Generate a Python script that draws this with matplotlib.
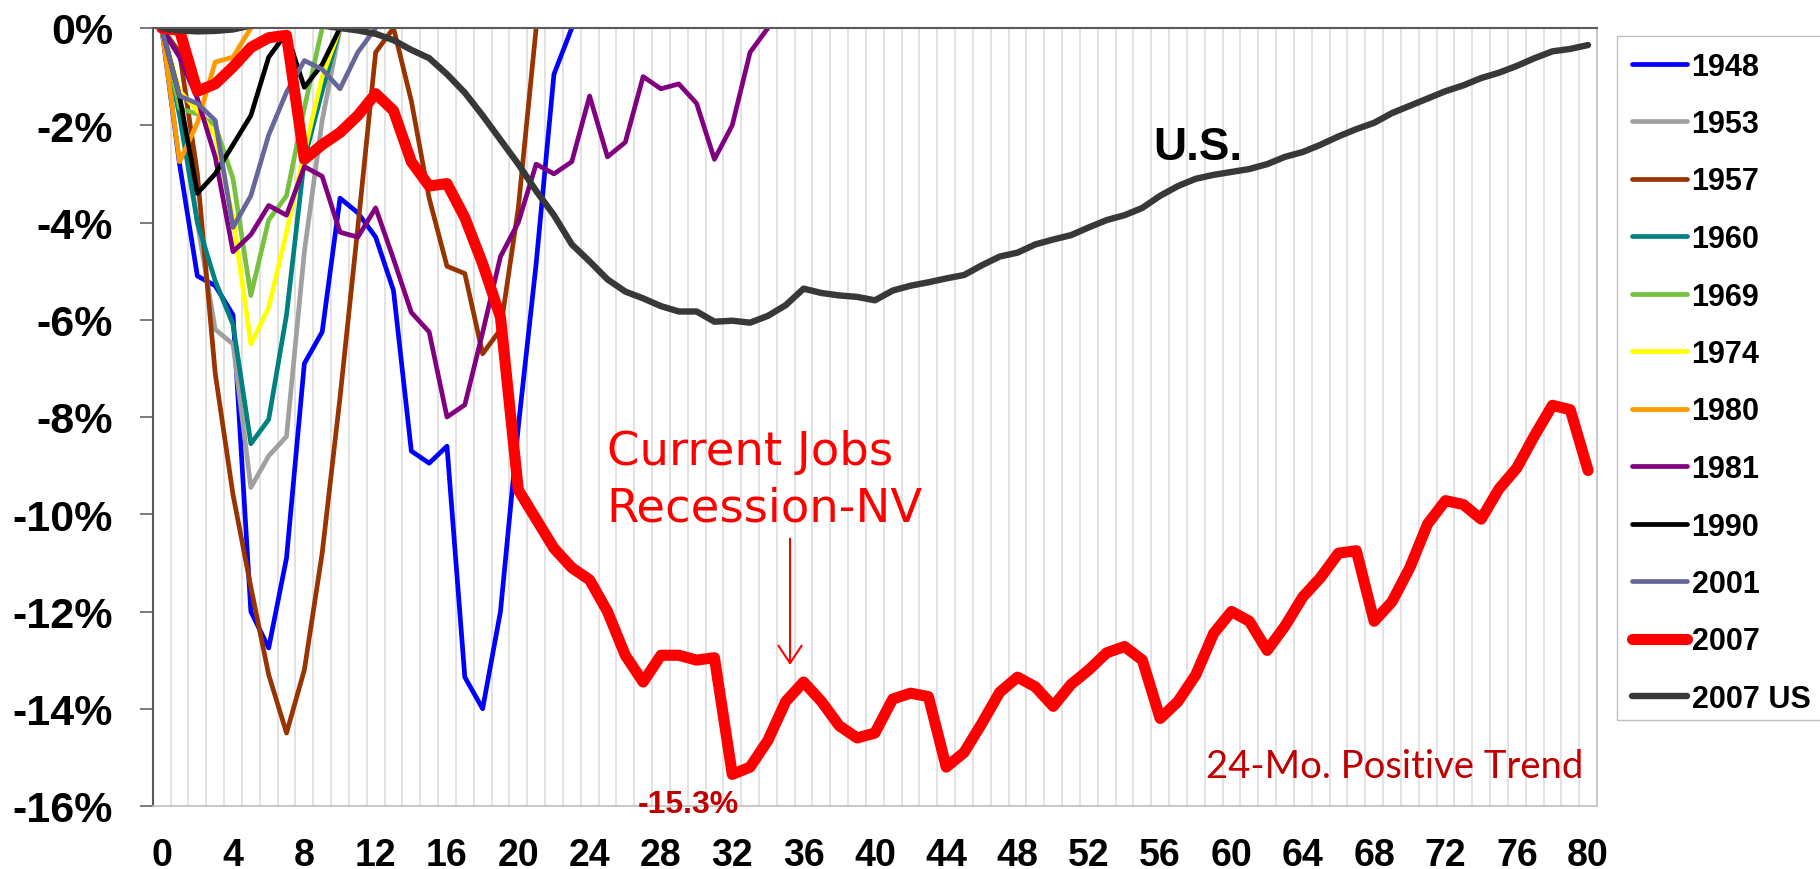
import numpy as np
import matplotlib.pyplot as plt
from matplotlib.patches import Rectangle
from matplotlib.lines import Line2D

# jobs lost vs. pre-recession peak, by month after peak (%)
y1948 = [0, -2.8, -5.1, -5.3, -5.9, -12.0, -12.75, -10.9, -6.9, -6.25,
         -3.5, -3.8, -4.3, -5.4, -8.7, -8.95, -8.6, -13.35, -14.0, -12.0,
         -8.2, -4.85, -0.95, 0.0]
y1953 = [0, -1.4, -4.0, -6.2, -6.5, -9.45, -8.8, -8.4, -4.6, -1.9, 0.0]
y1957 = [0, -0.5, -3.0, -7.1, -9.6, -11.5, -13.3, -14.5, -13.2, -10.8,
         -7.6, -4.1, -0.5, 0.0, -1.5, -3.5, -4.9, -5.05, -6.7, -6.2,
         -3.7, 0.0]
y1960 = [0, -1.8, -4.0, -5.2, -6.1, -8.55, -8.05, -5.9, -2.7, -1.3, 0.0]
y1969 = [0, -1.65, -1.77, -2.0, -3.1, -5.5, -3.95, -3.45, -1.65, 0.0]
y1974 = [0, -1.3, -1.7, -2.2, -3.9, -6.5, -5.75, -4.2, -2.55, -1.0, 0.0]
y1980 = [0, -2.75, -1.95, -0.7, -0.6, 0.0]
y1981 = [0, -0.6, -1.45, -2.65, -4.6, -4.25, -3.65, -3.85, -2.85, -3.05,
         -4.2, -4.3, -3.7, -4.75, -5.85, -6.25, -8.0, -7.75, -6.26, -4.7,
         -4.0, -2.8, -3.0, -2.75, -1.4, -2.65, -2.35, -1.0, -1.25, -1.15,
         -1.55, -2.7, -2.0, -0.5, 0.0]
y1990 = [0, -1.4, -3.4, -3.0, -2.4, -1.8, -0.6, -0.1, -1.22, -0.75, 0.0]
y2001 = [0, -1.4, -1.55, -1.9, -4.1, -3.45, -2.2, -1.32, -0.67, -0.85,
         -1.25, -0.5, 0.0]
y2007 = [0, -0.05, -1.3, -1.15, -0.8, -0.4, -0.2, -0.15, -2.7, -2.4,
         -2.15, -1.8, -1.35, -1.7, -2.75, -3.25, -3.2, -3.9, -4.85, -5.95,
         -9.5, -10.1, -10.7, -11.1, -11.35, -12.0, -12.9, -13.45, -12.9, -12.9,
         -13.0, -12.95, -15.35, -15.2, -14.65, -13.85, -13.45, -13.85, -14.35, -14.6,
         -14.5, -13.8, -13.68, -13.75, -15.2, -14.9, -14.3, -13.66, -13.35, -13.55,
         -13.95, -13.5, -13.2, -12.85, -12.72, -13.0, -14.2, -13.85, -13.3, -12.45,
         -12.0, -12.2, -12.8, -12.3, -11.7, -11.3, -10.8, -10.75, -12.2, -11.8,
         -11.1, -10.2, -9.72, -9.8, -10.1, -9.48, -9.05, -8.38, -7.76, -7.85,
         -9.1]
y2007us = [0, -0.05, -0.07, -0.06, -0.03, 0.05, 0.1, 0.12, 0.1, 0.05,
           0.0, -0.05, -0.12, -0.25, -0.45, -0.62, -0.95, -1.33, -1.8, -2.3,
           -2.8, -3.35, -3.85, -4.45, -4.8, -5.17, -5.42, -5.56, -5.72, -5.83,
           -5.83, -6.04, -6.02, -6.06, -5.92, -5.7, -5.36, -5.45, -5.5, -5.53,
           -5.6, -5.4, -5.3, -5.23, -5.15, -5.08, -4.88, -4.7, -4.62, -4.45,
           -4.35, -4.26, -4.1, -3.95, -3.85, -3.7, -3.45, -3.25, -3.1, -3.02,
           -2.96, -2.9, -2.8, -2.65, -2.55, -2.4, -2.23, -2.08, -1.95, -1.75,
           -1.6, -1.45, -1.3, -1.18, -1.03, -0.92, -0.78, -0.62, -0.48, -0.43,
           -0.35]

labels = ['1948', '1953', '1957', '1960', '1969', '1974', '1980', '1981',
          '1990', '2001', '2007', '2007 US']
series = [y1948, y1953, y1957, y1960, y1969, y1974, y1980, y1981,
          y1990, y2001, y2007, y2007us]
colors = ['#0000FF', '#A0A0A0', '#993300', '#008080', '#77C141', '#FFFF00',
          '#FF9900', '#800080', '#000000', '#666699', '#FF0000', '#383838']
widths = [3.4] * 10 + [8.0, 4.6]

x_ticks = list(range(0, 81, 4))
y_ticks = list(range(-16, 1, 2))

narrow = ['Liberation Sans Narrow', 'Liberation Sans']
bold_sans = ['Liberation Sans', 'DejaVu Sans']

W, H = 1820, 870
fig = plt.figure(figsize=(W / 100, H / 100), dpi=100)
ax = fig.add_axes([152.8 / W, 1 - 807 / H, (1597 - 152.8) / W, (807 - 29) / H])

for y, c, lw, lab in zip(series, colors, widths, labels):
    ax.plot(np.arange(len(y)), y, color=c, lw=lw, label=lab,
            solid_capstyle='round', solid_joinstyle='round')

ax.set_xlim(-0.5, 80.5)
ax.set_ylim(-16, 0)

# vertical category gridlines between months
ax.set_xticks(np.arange(0.5, 80, 1), minor=True)
ax.grid(which='minor', axis='x', color='#DADADA', lw=1.1)
ax.set_axisbelow(True)

ax.set_xticks(x_ticks)
ax.set_xticklabels([str(v) for v in x_ticks], family=narrow,
                   fontweight='bold', fontsize=27)
ax.tick_params(axis='x', which='both', length=0, pad=22)

ax.set_yticks(y_ticks)
ax.set_yticklabels([f'{v}%' for v in y_ticks], family=bold_sans,
                   fontweight='bold', fontsize=31)
ax.tick_params(axis='y', length=9.1, width=1.1, color='#595959', pad=19.4)
ax.tick_params(axis='y', which='minor', length=0)

for s in ['top', 'left']:
    ax.spines[s].set_color('#595959')
    ax.spines[s].set_linewidth(1.5)
for s in ['bottom', 'right']:
    ax.spines[s].set_color('#BFBFBF')
    ax.spines[s].set_linewidth(1.2)

# annotations
ax.text(58.1, -2.69, 'U.S.', ha='center', va='baseline', fontsize=33,
        fontweight='bold', family=narrow, color='black')
ax.text(24.96, -8.96, 'Current Jobs', ha='left', va='baseline', fontsize=33.5,
        family='DejaVu Sans', color='#FF0000')
ax.text(24.96, -10.13, 'Recession-NV', ha='left', va='baseline', fontsize=33.5,
        family='DejaVu Sans', color='#FF0000')
ax.annotate('', xy=(35.24, -13.1), xytext=(35.24, -10.5),
            arrowprops=dict(arrowstyle='->,head_length=0.9,head_width=0.6',
                            color='#FF0000', lw=1.5, mutation_scale=14,
                            shrinkA=0, shrinkB=0))
ax.text(29.52, -16.12, '-15.3%', ha='center', va='baseline', fontsize=23,
        fontweight='bold', family=bold_sans, color='#C00000')
ax.text(79.71, -15.40, '24-Mo. Positive Trend', ha='right', va='baseline',
        fontsize=27.5, family='Lato', color='#C00000')

# legend
fig.patches.append(Rectangle((1616.7 / W, 1 - 720.7 / H), 0.5, (720.7 - 36.7) / H,
                             transform=fig.transFigure, fill=False,
                             edgecolor='#BFBFBF', lw=1.0))
handles = [Line2D([], [], color=c, lw=lw, solid_capstyle='round')
           for c, lw in zip(colors, widths)]
fig.legend(handles, labels, loc='upper left',
           bbox_to_anchor=(1631.7 / W, 1 - 52.5 / H), frameon=False,
           borderpad=0, borderaxespad=0, handlelength=1.8, handletextpad=0.16,
           labelspacing=0.90, prop=dict(family=bold_sans, weight='bold', size=22))

fig.savefig('out.png', dpi=100)
